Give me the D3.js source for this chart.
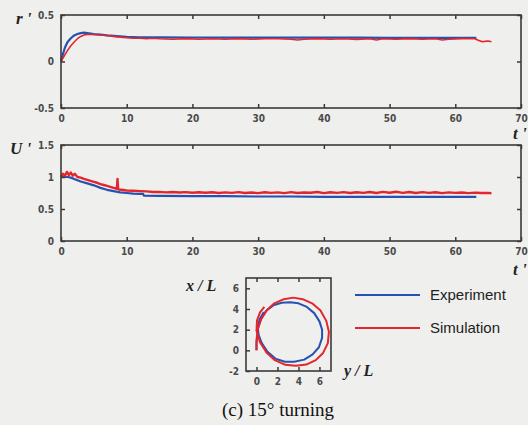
<!DOCTYPE html>
<html>
<head>
<meta charset="utf-8">
<script src="https://cdn.jsdelivr.net/npm/d3@7"></script>
<style>
  html, body { margin: 0; padding: 0; background: #efefed; }
  svg { display: block; }
  .tick text { font-family: "DejaVu Sans Condensed", "Liberation Sans Narrow", sans-serif; font-weight: bold; font-size: 10px; fill: #4a4a4a; }
</style>
</head>
<body>
<svg id="chart" width="528" height="425"></svg>
<script>
// r' time history
const rExpT = [0, 0.3, 0.6, 1, 1.5, 2, 2.5, 3, 3.5, 4, 5, 6, 7, 8, 10, 12, 15, 20, 25, 30, 35, 40, 45, 50, 55, 60, 63.2]
const rExpV = [0, 0.08, 0.15, 0.21, 0.25, 0.28, 0.295, 0.305, 0.31, 0.305, 0.295, 0.29, 0.28, 0.275, 0.265, 0.26, 0.26, 0.258, 0.257, 0.257, 0.256, 0.256, 0.256, 0.255, 0.255, 0.255, 0.255]
const rSimT = [0, 0.5, 1, 1.5, 2, 2.5, 3, 3.5, 4, 5, 6, 7, 8, 9, 10, 11, 12, 13, 14, 15, 17, 19, 21, 23, 25, 27, 29, 31, 33, 35, 36, 37, 39, 41, 43, 45, 47, 48, 49, 51, 53, 55, 57, 58, 59, 61, 63, 63.5, 64, 64.5, 65, 65.5]
const rSimV = [0, 0.06, 0.12, 0.17, 0.21, 0.245, 0.27, 0.285, 0.29, 0.29, 0.285, 0.28, 0.27, 0.262, 0.255, 0.25, 0.25, 0.245, 0.25, 0.244, 0.24, 0.246, 0.24, 0.245, 0.24, 0.246, 0.24, 0.245, 0.244, 0.24, 0.232, 0.24, 0.246, 0.24, 0.245, 0.238, 0.245, 0.232, 0.244, 0.24, 0.246, 0.24, 0.245, 0.232, 0.24, 0.246, 0.245, 0.228, 0.214, 0.216, 0.22, 0.212]

// U' time history
const uExpT = [0, 0.5, 1, 1.5, 2, 3, 4, 5, 6, 7, 8, 9, 10, 11, 12, 12.5, 12.6, 15, 20, 25, 30, 35, 40, 45, 50, 55, 60, 63.2]
const uExpV = [1.0, 1.0, 1.0, 0.99, 0.97, 0.93, 0.9, 0.87, 0.83, 0.8, 0.78, 0.76, 0.75, 0.74, 0.735, 0.735, 0.71, 0.705, 0.7, 0.7, 0.695, 0.695, 0.69, 0.69, 0.69, 0.69, 0.688, 0.688]
const uSimT = [0, 0.3, 0.6, 0.9, 1.2, 1.5, 1.8, 2.1, 2.5, 3, 3.5, 4, 4.5, 5, 5.5, 6, 6.5, 7, 7.5, 8, 8.5, 8.6, 8.7, 8.8, 9.2, 10, 11, 12, 13, 14, 15, 16, 17, 18, 19, 20, 21, 22, 23, 24, 25, 26, 27, 28, 29, 30, 31, 32, 33, 34, 35, 36, 37, 38, 39, 40, 41, 42, 43, 44, 45, 46, 47, 48, 49, 50, 51, 52, 53, 54, 55, 56, 57, 58, 59, 60, 61, 62, 63, 64, 65, 65.5]
const uSimV = [1.0, 1.05, 1.02, 1.08, 1.03, 1.07, 1.02, 1.05, 1.0, 0.99, 0.97, 0.955, 0.94, 0.925, 0.91, 0.89, 0.875, 0.86, 0.845, 0.83, 0.815, 0.97, 0.81, 0.805, 0.8, 0.79, 0.785, 0.78, 0.775, 0.765, 0.768, 0.76, 0.765, 0.757, 0.763, 0.755, 0.762, 0.753, 0.762, 0.75, 0.76, 0.752, 0.764, 0.75, 0.758, 0.748, 0.762, 0.752, 0.76, 0.748, 0.764, 0.75, 0.758, 0.753, 0.766, 0.748, 0.762, 0.752, 0.764, 0.75, 0.762, 0.752, 0.766, 0.75, 0.768, 0.754, 0.77, 0.752, 0.766, 0.75, 0.764, 0.752, 0.762, 0.748, 0.76, 0.752, 0.758, 0.748, 0.756, 0.75, 0.752, 0.746]

// turning trajectory (y/L horizontal, x/L vertical)
const trajExpY = [0, 0, 0.02, 0.08, 0.15, 0.4, 0.9, 1.6, 2.4, 3.2, 4.0, 4.8, 5.5, 6.0, 6.25, 6.25, 5.95, 5.35, 4.55, 3.6, 2.7, 1.8, 1.05, 0.5, 0.2, 0.12, 0.3, 0.7]
const trajExpX = [0, 0.5, 1.0, 1.5, 2.1, 3.0, 3.8, 4.35, 4.6, 4.65, 4.55, 4.2, 3.6, 2.8, 2.0, 1.2, 0.3, -0.4, -0.9, -1.1, -1.1, -0.8, -0.15, 0.7, 1.5, 2.3, 3.0, 3.7]
const trajSimY = [0, 0, 0.05, 0.15, 0.45, 1.0, 1.7, 2.6, 3.5, 4.4, 5.3, 6.1, 6.65, 6.9, 6.8, 6.35, 5.65, 4.75, 3.75, 2.75, 1.75, 0.95, 0.35, 0.0, 0.05, 0.35, 0.75]
const trajSimX = [0, 0.8, 1.5, 2.2, 3.0, 3.9, 4.55, 4.95, 5.1, 4.95, 4.55, 3.85, 2.85, 1.8, 0.7, -0.25, -0.95, -1.38, -1.5, -1.4, -0.95, -0.2, 0.75, 1.9, 2.9, 3.7, 4.2]

const tTicks = [0, 10, 20, 30, 40, 50, 60, 70]
const rTicks = [-0.5, 0, 0.5]
const uTicks = [0, 0.5, 1, 1.5]
const trajYTicks = [0, 2, 4, 6]
const trajXTicks = [-2, 0, 2, 4, 6]
const seriesNames = ["Experiment", "Simulation"]
const seriesColors = ["#2552b0", "#e3262c"]

const svg = d3.select("#chart")
const frameColor = "#3a3a3a"

function zip(a, b) { return a.map((v, i) => [v, b[i]]) }

function panel(box, xDomain, yDomain, xTickVals, yTickVals, fmtY, series, rightTicks) {
  const x = d3.scaleLinear().domain(xDomain).range([box.x0, box.x1])
  const y = d3.scaleLinear().domain(yDomain).range([box.y1, box.y0])

  const g = svg.append("g")

  // lines
  const line = d3.line().x(d => x(d[0])).y(d => y(d[1]))
  series.forEach(s => {
    g.append("path")
      .datum(s.pts)
      .attr("fill", "none")
      .attr("stroke", s.color)
      .attr("stroke-width", s.w)
      .attr("stroke-linejoin", "round")
      .attr("d", line)
  })

  // axes, ticks pointing inward
  const styleAxis = a => {
    a.select(".domain").remove()
    a.selectAll("line").attr("stroke", frameColor).attr("stroke-width", 1.5)
  }
  g.append("g")
    .attr("transform", `translate(0,${box.y1})`)
    .call(d3.axisBottom(x).tickValues(xTickVals).tickSizeInner(-4).tickSizeOuter(0).tickPadding(7).tickFormat(d3.format("d")))
    .call(styleAxis)
  g.append("g")
    .attr("transform", `translate(0,${box.y0})`)
    .call(d3.axisTop(x).tickValues(xTickVals).tickSizeInner(-4).tickSizeOuter(0).tickFormat(""))
    .call(styleAxis)
  g.append("g")
    .attr("transform", `translate(${box.x0},0)`)
    .call(d3.axisLeft(y).tickValues(yTickVals).tickSizeInner(-4).tickSizeOuter(0).tickPadding(7).tickFormat(fmtY))
    .call(styleAxis)
  if (rightTicks) {
    g.append("g")
      .attr("transform", `translate(${box.x1},0)`)
      .call(d3.axisRight(y).tickValues(yTickVals).tickSizeInner(-4).tickSizeOuter(0).tickFormat(""))
      .call(styleAxis)
  }

  g.append("rect")
    .attr("x", box.x0).attr("y", box.y0)
    .attr("width", box.x1 - box.x0).attr("height", box.y1 - box.y0)
    .attr("fill", "none").attr("stroke", frameColor).attr("stroke-width", 1.6)
  return { x, y }
}

// plain hyphen minus like the original
const fmtAxis = d => String(d).replace("0.", d < 0 ? "0." : "0.")

// top panel: r'
panel({ x0: 61, x1: 521, y0: 15, y1: 108 }, [0, 70], [-0.5, 0.5], tTicks, rTicks, fmtAxis, [
  { pts: zip(rExpT, rExpV), color: seriesColors[0], w: 2.2 },
  { pts: zip(rSimT, rSimV), color: seriesColors[1], w: 1.6 }
], true)

// bottom panel: U'
panel({ x0: 61, x1: 521, y0: 145, y1: 241 }, [0, 70], [0, 1.5], tTicks, uTicks, fmtAxis, [
  { pts: zip(uExpT, uExpV), color: seriesColors[0], w: 2.2 },
  { pts: zip(uSimT, uSimV), color: seriesColors[1], w: 2.4 }
], true)

// inset: trajectory
panel({ x0: 246, x1: 331, y0: 278, y1: 371 }, [-1, 7.1], [-2, 7], trajYTicks, trajXTicks, d => String(d), [
  { pts: zip(trajExpY, trajExpX), color: seriesColors[0], w: 2 },
  { pts: zip(trajSimY, trajSimX), color: seriesColors[1], w: 2 }
], false)

// axis labels
const lab = (x, y, txt, size) => svg.append("text")
  .attr("x", x).attr("y", y)
  .attr("font-family", "Liberation Serif, serif")
  .attr("font-style", "italic").attr("font-weight", "bold")
  .attr("font-size", size).attr("fill", "#222")
  .text(txt)

lab(16, 24, "r '", 17)
lab(10, 154, "U '", 17)
lab(513, 139, "t '", 17)
lab(513, 275, "t '", 17)
lab(186, 291, "x / L", 16)
lab(344, 376, "y / L", 16)

// legend
seriesNames.forEach((name, i) => {
  const ly = [295, 328][i]
  svg.append("line")
    .attr("x1", 355).attr("x2", 420).attr("y1", ly).attr("y2", ly)
    .attr("stroke", seriesColors[i]).attr("stroke-width", 2)
  svg.append("text")
    .attr("x", 430).attr("y", ly + 5)
    .attr("font-family", "Liberation Sans, Arial, sans-serif")
    .attr("font-size", 15).attr("fill", "#222")
    .text(name)
})

// caption
svg.append("text")
  .attr("x", 278).attr("y", 416)
  .attr("text-anchor", "middle")
  .attr("font-family", "Liberation Serif, serif")
  .attr("font-size", 19).attr("fill", "#111")
  .text("(c) 15° turning")
</script>
</body>
</html>
